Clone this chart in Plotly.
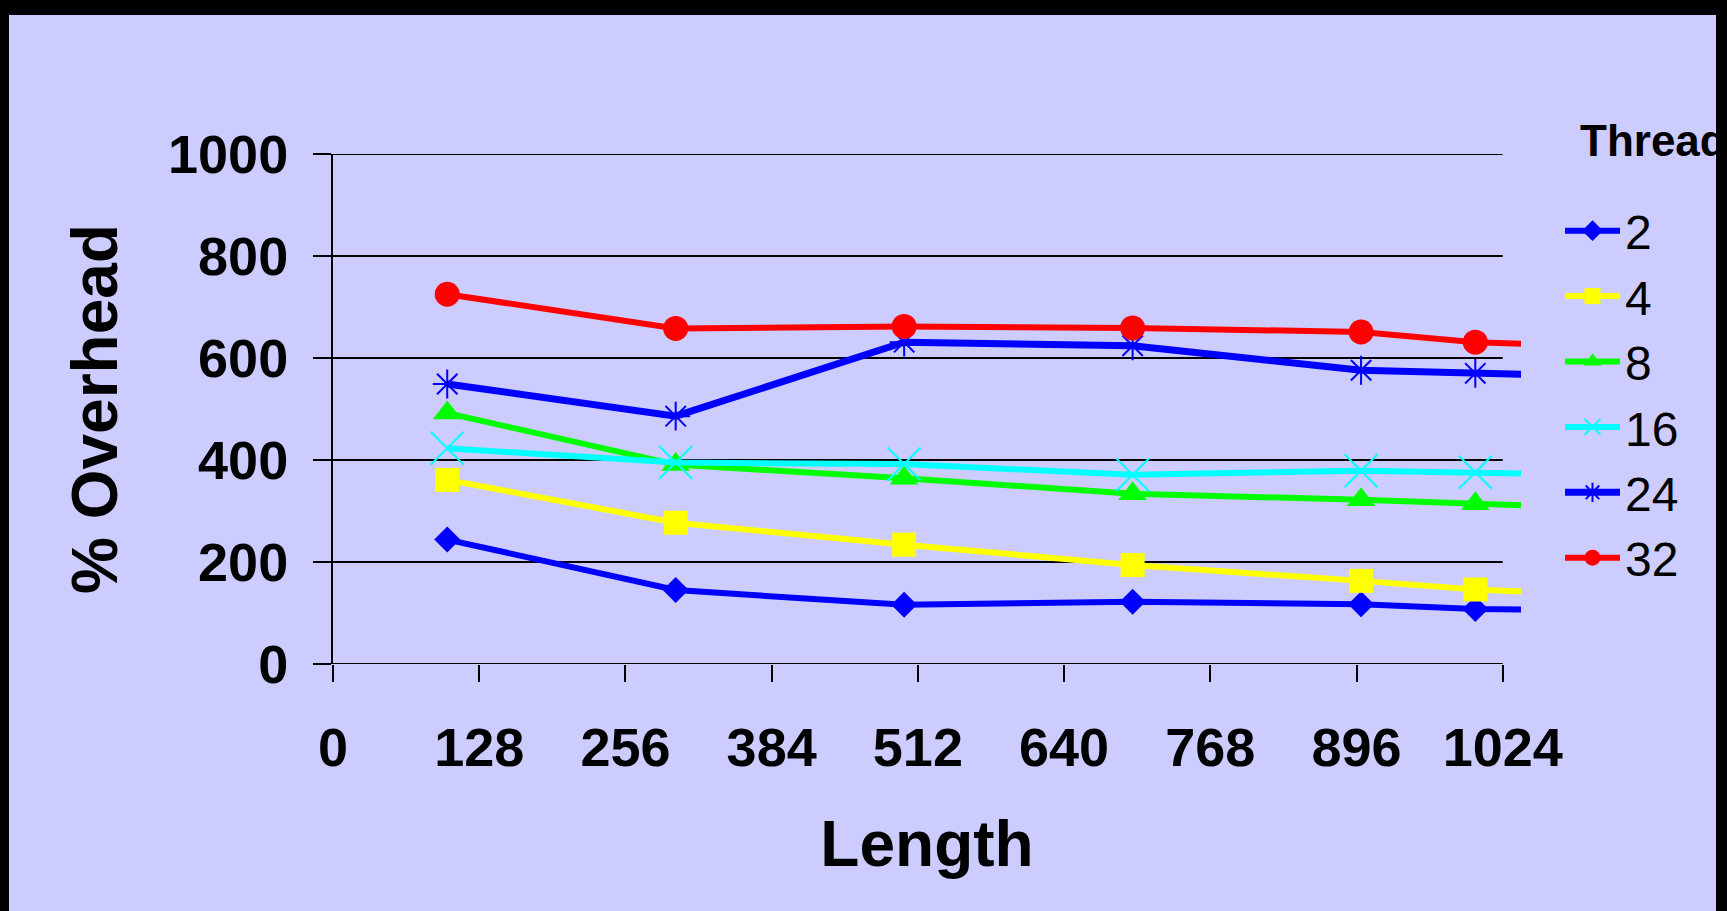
import plotly.graph_objects as go

# ---------------- data ----------------
lengths = [100, 300, 500, 700, 900, 1000, 1100]
threads = ["2", "4", "8", "16", "24", "32"]
overhead_2 = [244, 145, 116, 122, 117, 108, 105]
overhead_4 = [361, 277, 234, 194, 163, 146, 136]
overhead_8 = [492, 391, 364, 334, 322, 314, 307]
overhead_16 = [423, 395, 392, 371, 379, 376, 371]
overhead_24 = [549, 486, 631, 624, 576, 570, 565]
overhead_32 = [725, 658, 662, 659, 651, 631, 623]
x_ticks = [0, 128, 256, 384, 512, 640, 768, 896, 1024]
y_ticks = [0, 200, 400, 600, 800, 1000]

series = [overhead_2, overhead_4, overhead_8, overhead_16, overhead_24, overhead_32]
colors = ["#0000FF", "#FFFF00", "#00FF00", "#00FFFF", "#0000FF", "#FF0000"]
symbols = ["diamond", "square", "triangle-up", "x-thin-open", "asterisk-open", "circle"]
msizes = [20, 24, 25, 33, 24, 25]
lwidths = [6, 6, 6, 6, 7, 6]

# ---------------- layout geometry (pixels) ----------------
W, H = 1727, 911
PL, PR, PT, PB = 333, 1521, 154, 664
XMAX = 1040
BG = "#CCCCFF"
FONT = "Liberation Sans, Arial, sans-serif"

def px_to_paper_x(px):
    return (px - PL) / (PR - PL)

def px_to_paper_y(py):
    return (PB - py) / (PB - PT)

fig = go.Figure()
for name, vals, c, s, ms, lw in zip(threads, series, colors, symbols, msizes, lwidths):
    open_sym = s.endswith("open")
    fig.add_trace(go.Scatter(
        x=lengths, y=vals, name=name, mode="lines+markers",
        line=dict(color=c, width=lw),
        marker=dict(symbol=s, size=ms, color=c,
                    line=dict(color=c, width=2 if open_sym else 0)),
        cliponaxis=True,
    ))

shapes = []
# gridlines ending at axis max 1024
for v in y_ticks:
    shapes.append(dict(type="line", xref="x", yref="y", x0=0, x1=x_ticks[-1], y0=v, y1=v,
                       line=dict(color="black", width=2), layer="below"))
# black frame
shapes.append(dict(type="rect", xref="paper", yref="paper",
                   x0=px_to_paper_x(0), x1=px_to_paper_x(W), y0=px_to_paper_y(0), y1=px_to_paper_y(15),
                   fillcolor="black", line=dict(width=0), layer="above"))
shapes.append(dict(type="rect", xref="paper", yref="paper",
                   x0=px_to_paper_x(0), x1=px_to_paper_x(9), y0=px_to_paper_y(H), y1=px_to_paper_y(0),
                   fillcolor="black", line=dict(width=0), layer="above"))
shapes.append(dict(type="rect", xref="paper", yref="paper",
                   x0=px_to_paper_x(1716), x1=px_to_paper_x(W), y0=px_to_paper_y(H), y1=px_to_paper_y(0),
                   fillcolor="black", line=dict(width=0), layer="above"))

fig.update_layout(
    width=W, height=H,
    margin=dict(l=PL, r=W - PR, t=PT, b=H - PB, autoexpand=False),
    paper_bgcolor=BG, plot_bgcolor=BG,
    font=dict(family=FONT, color="black"),
    shapes=shapes,
    showlegend=True,
    legend=dict(
        xref="container", yref="container",
        x=1560 / W, y=1 - 193 / H, xanchor="left", yanchor="top",
        bgcolor="rgba(0,0,0,0)", borderwidth=0,
        font=dict(family=FONT, size=48, color="black"),
        itemwidth=55,
    ),
    annotations=[dict(
        text="<b>Threads</b>", xref="paper", yref="paper",
        x=px_to_paper_x(1578), y=px_to_paper_y(140), xanchor="left", yanchor="middle",
        showarrow=False, font=dict(family=FONT, size=44, color="black"),
    )],
)

fig.update_xaxes(
    range=[0, XMAX], tickmode="array", tickvals=x_ticks,
    ticks="outside", ticklen=17, tickwidth=2, tickcolor="black",
    showgrid=False, zeroline=False, showline=False,
    tickfont=dict(family=FONT, size=54, color="black", weight="bold"),
    ticklabelstandoff=19,
    title=dict(text="<b>Length</b>", font=dict(family=FONT, size=64, color="black"), standoff=45),
)
fig.update_yaxes(
    range=[0, 1000], tickmode="array", tickvals=y_ticks,
    ticks="outside", ticklen=18, tickwidth=2, tickcolor="black",
    showgrid=False, zeroline=False, showline=True, linecolor="black", linewidth=2,
    tickfont=dict(family=FONT, size=54, color="black", weight="bold"),
    ticklabelstandoff=14,
    title=dict(text="<b>% Overhead</b>", font=dict(family=FONT, size=64, color="black"), standoff=30),
)

fig.write_html(
    "out.html",
    config={"displayModeBar": False},
    post_script="document.body.style.margin='0';document.body.style.padding='0';"
                "document.body.style.background='#000';",
)
